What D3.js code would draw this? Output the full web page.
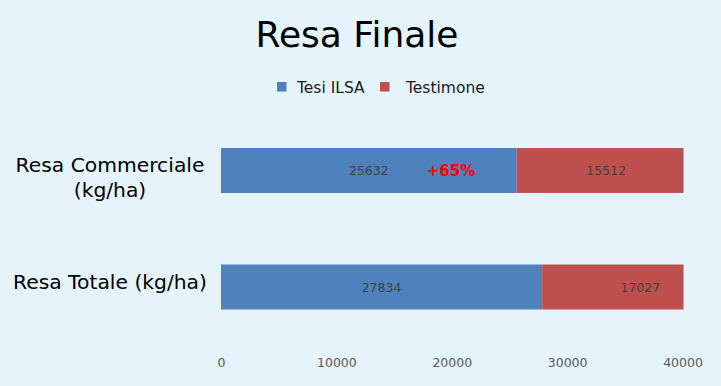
<!DOCTYPE html>
<html>
<head>
<meta charset="utf-8">
<script src="https://cdn.jsdelivr.net/npm/d3@7"></script>
<style>
  body { margin: 0; background: #e5f3fb; }
  svg { display: block; font-family: "DejaVu Sans", Verdana, sans-serif; }
</style>
</head>
<body>
<script>
var categories = ["Resa Commerciale (kg/ha)", "Resa Totale (kg/ha)"];
var catLines = [["Resa Commerciale", "(kg/ha)"], ["Resa Totale (kg/ha)"]];
var seriesNames = ["Tesi ILSA", "Testimone"];
var tesiValues = [25632, 27834];
var testimoneValues = [15512, 17027];
var xTicks = [0, 10000, 20000, 30000, 40000];
var note = "+65%";

var svgWidth = 721, svgHeight = 386;
var colors = ["#4f81bd", "#c0504d"];

var svg = d3.select("body").append("svg")
  .attr("width", svgWidth)
  .attr("height", svgHeight);

svg.append("rect")
  .attr("width", svgWidth).attr("height", svgHeight)
  .attr("fill", "#e5f3fb");

var x = d3.scaleLinear().domain([0, 40000]).range([221, 682.5]);
var y = d3.scaleBand().domain(categories).range([148, 309.5]).paddingInner(0.614);

// title
svg.append("text")
  .attr("x", 357).attr("y", 47)
  .attr("text-anchor", "middle")
  .attr("font-size", 36)
  .attr("fill", "#000")
  .text("Resa Finale");

// legend
var legendX = [277, 380];
var legendTextX = [297, 406];
seriesNames.forEach(function(name, i) {
  svg.append("rect")
    .attr("x", legendX[i]).attr("y", 82)
    .attr("width", 9.5).attr("height", 9.5)
    .attr("fill", colors[i]);
  svg.append("text")
    .attr("x", legendTextX[i]).attr("y", 93)
    .attr("font-size", 15.5)
    .attr("fill", "#1a1a1a")
    .text(name);
});

svg.append("clipPath").attr("id", "plotclip")
  .append("rect")
  .attr("x", x(0)).attr("y", 0)
  .attr("width", x(40000) - x(0) + 1).attr("height", svgHeight);

var rows = categories.map(function(c, i) {
  return { cat: c, tesi: tesiValues[i], test: testimoneValues[i], lines: catLines[i] };
});

var bars = svg.append("g").attr("clip-path", "url(#plotclip)");

bars.selectAll(".tesi").data(rows).enter().append("rect")
  .attr("class", "tesi")
  .attr("x", x(0))
  .attr("y", d => y(d.cat))
  .attr("width", d => x(d.tesi) - x(0))
  .attr("height", y.bandwidth())
  .attr("fill", colors[0]);

bars.selectAll(".test").data(rows).enter().append("rect")
  .attr("class", "test")
  .attr("x", d => x(d.tesi))
  .attr("y", d => y(d.cat))
  .attr("width", d => x(d.tesi + d.test) - x(d.tesi))
  .attr("height", y.bandwidth())
  .attr("fill", colors[1]);

// value labels
svg.selectAll(".lab1").data(rows).enter().append("text")
  .attr("x", d => (x(0) + x(d.tesi)) / 2)
  .attr("y", d => y(d.cat) + y.bandwidth() / 2 + 4.5)
  .attr("text-anchor", "middle")
  .attr("font-size", 12.5)
  .attr("fill", "#404040")
  .text(d => d.tesi);

svg.selectAll(".lab2").data(rows).enter().append("text")
  .attr("x", d => (x(d.tesi) + x(d.tesi + d.test)) / 2)
  .attr("y", d => y(d.cat) + y.bandwidth() / 2 + 4.5)
  .attr("text-anchor", "middle")
  .attr("font-size", 12.5)
  .attr("fill", "#404040")
  .text(d => d.test);

svg.append("text")
  .attr("x", 451)
  .attr("y", y(categories[0]) + y.bandwidth() / 2 + 6)
  .attr("text-anchor", "middle")
  .attr("font-size", 15)
  .attr("font-weight", "bold")
  .attr("fill", "#ff0000")
  .text(note);

// category labels
svg.selectAll(".cat").data(rows).enter().append("text")
  .attr("text-anchor", "middle")
  .attr("font-size", 20.3)
  .attr("fill", "#000")
  .each(function(d) {
    var t = d3.select(this);
    var cy = y(d.cat) + y.bandwidth() / 2;
    d.lines.forEach(function(line, j) {
      t.append("tspan")
        .attr("x", 110)
        .attr("y", cy + 2 + j * 25)
        .text(line);
    });
  });

// x axis
var axis = svg.append("g")
  .attr("transform", "translate(0,355)")
  .call(d3.axisBottom(x).tickValues(xTicks).tickSize(0).tickFormat(d3.format("d")));
axis.select(".domain").remove();
axis.selectAll("text")
  .attr("font-family", "DejaVu Sans, Verdana, sans-serif")
  .attr("font-size", 12.5)
  .attr("fill", "#595959");
</script>
</body>
</html>
